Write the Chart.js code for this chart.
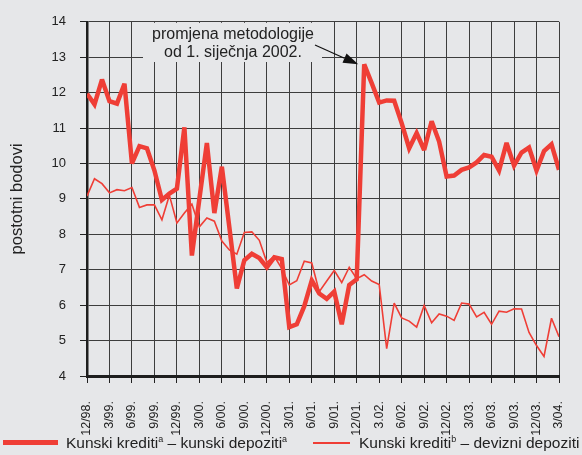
<!DOCTYPE html>
<html>
<head>
<meta charset="utf-8">
<script src="https://cdn.jsdelivr.net/npm/chart.js@4.4.1/dist/chart.umd.min.js"></script>
<style>
  html, body { margin: 0; padding: 0; background: #e6e7e9; }
  #wrap { position: relative; width: 582px; height: 455px; overflow: hidden; background: #e6e7e9; font-family: 'Liberation Sans', Arial, sans-serif; color: #222; }
  #chart { position: absolute; left: 0; top: 0; }
  .lg { position: absolute; font-size: 15.5px; line-height: 18px; white-space: nowrap; color: #222; }
  .lg sup { font-size: 9px; vertical-align: 6px; line-height: 0; }
  .sw { position: absolute; background: #ef3e36; }
</style>
</head>
<body>
<div id="wrap">
  <canvas id="chart" width="582" height="455"></canvas>
  <div class="sw" style="left:3px; top:440px; width:55px; height:5px;"></div>
  <div class="lg" style="left:66px; top:434px;">Kunski krediti<sup>a</sup> – kunski depoziti<sup>a</sup></div>
  <div class="sw" style="left:313px; top:442px; width:37px; height:1.6px;"></div>
  <div class="lg" style="left:359px; top:434px;">Kunski krediti<sup>b</sup> – devizni depoziti</div>
</div>
<script>
// Quarter tick labels (every 3rd month, 12/98 .. 3/04)
const quarterLabels = ['12/98.','3/99.','6/99.','9/99.','12/99.','3/00.','6/00.','9/00.','12/00.','3/01.','6/01.','9/01.','12/01.','3.02.','6/02.','9/02.','12/02.','3/03.','6/03.','9/03.','12/03.','3/04.'];

// Monthly values, 12/98 .. 3/04 (64 months)
const kunskiKunski = [11.97,11.67,12.37,11.76,11.69,12.25,10.0,10.49,10.43,9.80,
  8.97,9.15,9.29,11.02,7.40,9.0,10.58,8.6,9.91,8.2,
  6.47,7.27,7.45,7.33,7.07,7.35,7.3,5.38,5.46,5.97,
  6.7,6.33,6.18,6.38,5.46,6.57,6.73,12.8,12.27,11.72,
  11.78,11.77,11.14,10.43,10.86,10.38,11.19,10.62,9.63,9.66,
  9.82,9.89,10.03,10.24,10.19,9.80,10.58,9.94,10.31,10.45,
  9.80,10.35,10.54,9.82];
const kunskiDevizni = [9.08,9.57,9.43,9.17,9.26,9.23,9.32,8.76,8.83,8.83,
  8.41,9.1,8.32,8.6,8.85,8.21,8.46,8.37,7.81,7.56,
  7.44,8.05,8.07,7.83,7.21,7.38,7.03,6.57,6.69,7.24,
  7.19,6.38,6.68,6.98,6.64,7.07,6.75,6.86,6.68,6.58,
  4.77,6.06,5.64,5.55,5.38,5.99,5.5,5.75,5.69,5.57,
  6.06,6.03,5.67,5.8,5.46,5.83,5.8,5.9,5.89,5.23,
  4.86,4.55,5.63,5.11];

const annotationLines = ['promjena metodologije', 'od 1. siječnja 2002.'];
const annotationMonth = 37;

const toPoints = arr => arr.map((v, i) => ({ x: i, y: v }));
const FONT = "'Liberation Sans', Arial, sans-serif";
const RED = '#ef3e36';
const GRID = '#3d3d3d';

const annotationPlugin = {
  id: 'annot',
  beforeDatasetsDraw(chart) {
    const ctx = chart.ctx;
    const ys = chart.scales.y;
    ctx.save();
    ctx.fillStyle = '#e6e7e9';
    ctx.fillRect(143, ys.top + 1, 179, 62 - ys.top - 1);
    ctx.fillStyle = '#222';
    ctx.font = '16px ' + FONT;
    ctx.textAlign = 'center';
    ctx.textBaseline = 'alphabetic';
    ctx.fillText(annotationLines[0], 233, 39);
    ctx.fillText(annotationLines[1], 233, 57);
    ctx.restore();
    ctx.miterLimit = 3;
  },
  afterDatasetsDraw(chart) {
    const ctx = chart.ctx;
    const xs = chart.scales.x, ys = chart.scales.y;
    const tx = xs.getPixelForValue(annotationMonth) - 6;
    const ty = ys.getPixelForValue(kunskiKunski[annotationMonth]);
    const sx = 315, sy = 45;
    const ang = Math.atan2(ty - sy, tx - sx);
    const hl = 15, hw = 5;
    ctx.save();
    ctx.strokeStyle = '#111';
    ctx.fillStyle = '#111';
    ctx.lineWidth = 1.2;
    ctx.beginPath();
    ctx.moveTo(sx, sy);
    ctx.lineTo(tx - Math.cos(ang) * hl, ty - Math.sin(ang) * hl);
    ctx.stroke();
    ctx.beginPath();
    ctx.moveTo(tx, ty);
    const bx = tx - Math.cos(ang) * hl, by = ty - Math.sin(ang) * hl;
    ctx.lineTo(bx + Math.sin(ang) * hw, by - Math.cos(ang) * hw);
    ctx.lineTo(bx - Math.sin(ang) * hw, by + Math.cos(ang) * hw);
    ctx.closePath();
    ctx.fill();
    ctx.restore();
    ctx.miterLimit = 10;
  }
};

new Chart(document.getElementById('chart'), {
  type: 'line',
  data: {
    datasets: [
      { label: 'Kunski krediti – devizni depoziti', data: toPoints(kunskiDevizni), borderColor: RED, borderWidth: 1.6, pointRadius: 0, tension: 0, order: 2 },
      { label: 'Kunski krediti – kunski depoziti', data: toPoints(kunskiKunski), borderColor: RED, borderWidth: 4.5, pointRadius: 0, tension: 0, order: 1 }
    ]
  },
  options: {
    responsive: false,
    animation: false,
    layout: { padding: { top: 15, right: 23, left: 0, bottom: 0 } },
    plugins: { legend: { display: false }, tooltip: { enabled: false } },
    scales: {
      x: {
        type: 'linear', min: 0, max: 63,
        afterFit: s => { s.height = 79; s.paddingLeft = 0; s.paddingRight = 0; },
        afterBuildTicks: s => { s.ticks = quarterLabels.map((l, i) => ({ value: i * 3 })); },
        ticks: {
          stepSize: 3, autoSkip: false, maxRotation: 90, minRotation: 90, padding: 18,
          color: '#222', font: { family: FONT, size: 12.5 },
          callback: (v) => quarterLabels[Math.round(v / 3)]
        },
        grid: { color: GRID, lineWidth: 1, tickLength: 7, tickColor: '#222' },
        border: { display: true, color: '#1e1e1e', width: 3 }
      },
      y: {
        min: 4, max: 14,
        afterFit: s => { s.width = 87; },
        ticks: { stepSize: 1, padding: 14, color: '#222', font: { family: FONT, size: 13 } },
        grid: { color: GRID, lineWidth: 1, tickLength: 7, tickColor: '#222' },
        border: { display: true, color: '#1e1e1e', width: 2.5 },
        title: { display: true, text: 'postotni bodovi', color: '#222', font: { family: FONT, size: 16.5 }, padding: { top: 8, bottom: 0 } }
      }
    }
  },
  plugins: [annotationPlugin]
});
</script>
</body>
</html>
